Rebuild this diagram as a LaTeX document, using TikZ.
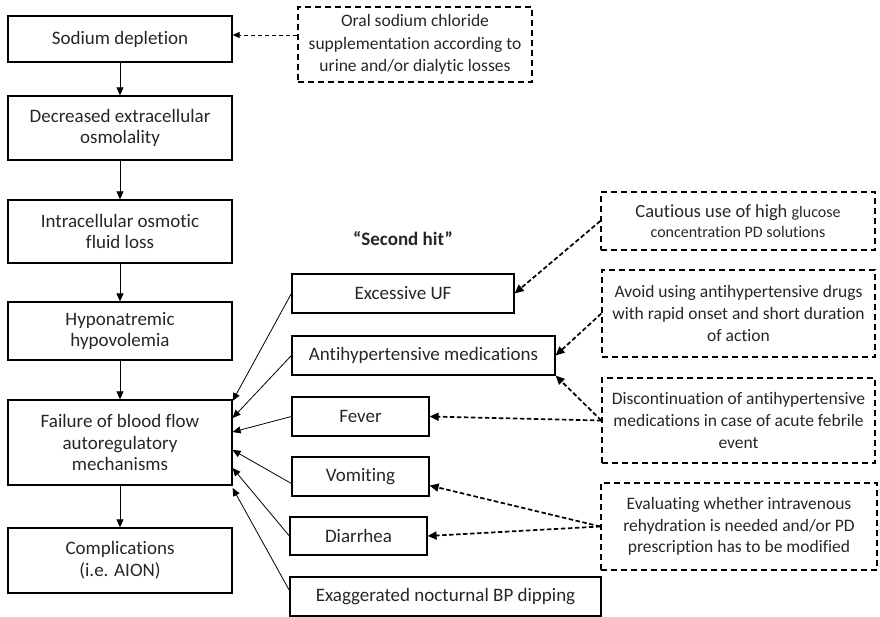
\documentclass[tikz,border=0pt]{standalone}
\usepackage{fontspec}
\setmainfont{Carlito}[Ligatures={TeX,NoCommon}]
\usetikzlibrary{arrows.meta}

\tikzset{
  box/.style={draw, line width=1.2pt, align=center, inner sep=2pt, text=black!85,
    font=\fontsize{19}{21.7}\selectfont},
  advice/.style={draw, line width=1.4pt, dash pattern=on 6pt off 4pt, align=center, inner sep=2pt,
    text=black!85, font=\fontsize{17.5}{21.7}\selectfont},
  flow/.style={-{Triangle[length=8pt,width=7pt]}, line width=0.8pt},
  cure/.style={-{Triangle[length=9pt,width=8pt]}, line width=1.7pt, dash pattern=on 4.5pt off 2.5pt},
}
\newcommand{\smalltxt}{\fontsize{16}{20}\selectfont}

\begin{document}
\begin{tikzpicture}[x=1pt, y=-1pt]
\useasboundingbox (0,0) rectangle (880,617);

% main chain
\node[box, minimum width=224pt, minimum height=46pt] (sd) at (120,39) {Sodium depletion};
\node[box, minimum width=224pt, minimum height=64pt] (deo) at (120,128) {Decreased extracellular\\osmolality};
\node[box, minimum width=224pt, minimum height=63pt] (ifl) at (120,231.5) {Intracellular osmotic\\fluid loss};
\node[box, minimum width=224pt, minimum height=58pt] (hyp) at (120,331) {Hyponatremic\\hypovolemia};
\node[box, minimum width=224pt, minimum height=85pt] (fail) at (120,442.5) {Failure of blood flow\\autoregulatory\\mechanisms};
\node[box, minimum width=224pt, minimum height=65pt] (comp) at (120,560.5) {Complications\\(i.e. AION)};

% second hit
\node[font=\bfseries\fontsize{19}{21}\selectfont, text=black!85] (hit) at (403,239) {“Second hit”};
\node[box, minimum width=222pt, minimum height=39pt] (uf) at (403,293.5) {Excessive UF};
\node[box, minimum width=263pt, minimum height=39pt] (ahm) at (423.5,355.5) {Antihypertensive medications};
\node[box, minimum width=137pt, minimum height=39pt] (fev) at (360.5,416.5) {Fever};
\node[box, minimum width=137pt, minimum height=39pt] (vom) at (360.5,476.5) {Vomiting};
\node[box, minimum width=137pt, minimum height=38pt] (dia) at (358.5,536) {Diarrhea};
\node[box, minimum width=311pt, minimum height=39pt] (bpd) at (445.5,596.5) {Exaggerated nocturnal BP dipping};

% advice boxes
\node[advice, minimum width=234pt, minimum height=75pt, font=\fontsize{17.5}{22.5}\selectfont] (oral) at (415,44.5) {Oral sodium chloride\\supplementation according to\\urine and/or dialytic losses};
\node[advice, minimum width=274pt, minimum height=58pt, font=\fontsize{18.5}{20}\selectfont] (cau) at (738,221) {Cautious use of high {\smalltxt glucose}\\{\smalltxt concentration PD solutions}};
\node[advice, minimum width=273pt, minimum height=87pt] (avo) at (738.5,313.5) {Avoid using antihypertensive drugs\\with rapid onset and short duration\\of action};
\node[advice, minimum width=273pt, minimum height=85pt] (dis) at (738.5,420.5) {Discontinuation of antihypertensive\\medications in case of acute febrile\\event};
\node[advice, minimum width=276pt, minimum height=87pt] (eva) at (739,526.5) {Evaluating whether intravenous\\rehydration is needed and/or PD\\prescription has to be modified};

\draw[flow] (sd) -- (deo);
\draw[flow] (deo) -- (ifl);
\draw[flow] (ifl) -- (hyp);
\draw[flow] (hyp) -- (fail);
\draw[flow] (fail) -- (comp);

\draw[flow] (uf.west) -- ([yshift=41.5pt]fail.east);
\draw[flow] (ahm.west) -- ([yshift=24.5pt]fail.east);
\draw[flow] (fev.west) -- ([yshift=10.5pt]fail.east);
\draw[flow] ([yshift=-7pt]vom.west) -- ([yshift=-7.5pt]fail.east);
\draw[flow] (dia.west) -- ([yshift=-25.5pt]fail.east);
\draw[flow] ([yshift=6pt]bpd.west) -- ([yshift=-45.5pt]fail.east);

\draw[-{Triangle[length=7pt,width=6pt]}, line width=0.9pt, dash pattern=on 4pt off 3pt]
  ([yshift=4pt]oral.west |- sd.east) -- ([yshift=4pt]sd.east);
\draw[cure] (cau.west) -- (uf.east);
\draw[cure] (avo.west) -- (ahm.east);
\draw[cure] (dis.west) -- (ahm.south east);
\draw[cure] (dis.west) -- (fev.east);
\draw[cure] (eva.west) -- ([yshift=-9pt]vom.east);
\draw[cure] (eva.west) -- (dia.east);
\end{tikzpicture}
\end{document}
